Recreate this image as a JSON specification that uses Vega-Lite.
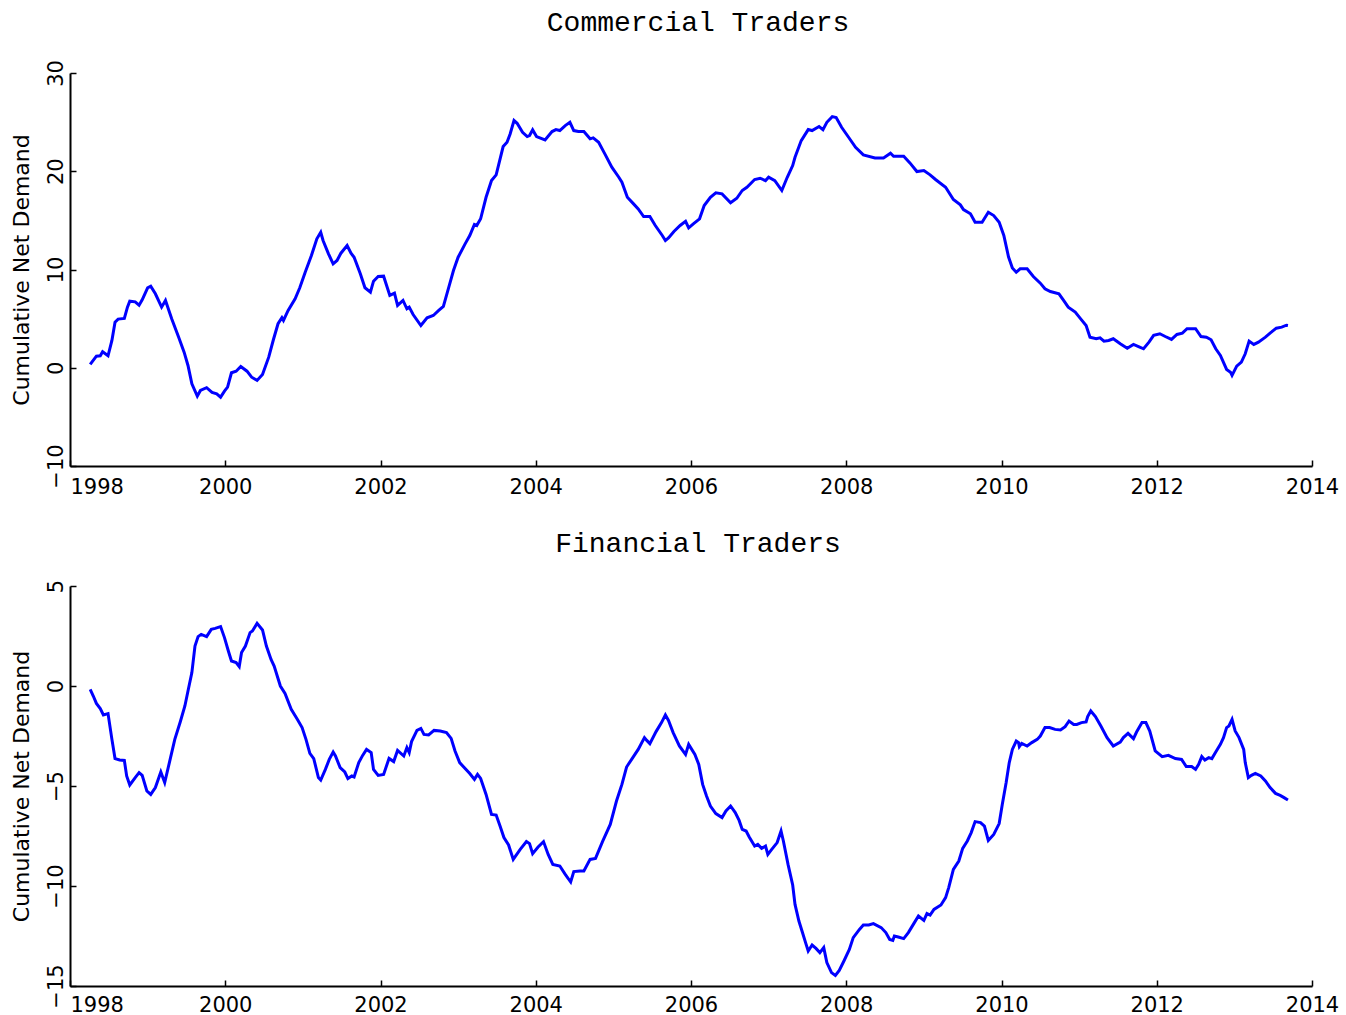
{
  "$schema": "https://vega.github.io/schema/vega-lite/v6.json",
  "background": "white",
  "padding": {"left": 10, "top": 8, "right": 5, "bottom": 5},
  "bounds": "flush",
  "spacing": 120,
  "config": {
    "view": {"stroke": null},
    "axis": {
      "grid": false,
      "domainColor": "black",
      "domainWidth": 2,
      "tickColor": "black",
      "tickWidth": 1.5,
      "tickSize": -6,
      "labelFont": "DejaVu Sans",
      "labelFontSize": 21,
      "labelColor": "black",
      "titleFont": "DejaVu Sans",
      "titleFontSize": 22,
      "titleFontWeight": "normal",
      "titleColor": "black"
    },
    "title": {"font": "Liberation Mono", "fontSize": 28, "fontWeight": "normal", "color": "black", "frame": "group", "dx": 7}
  },
  "datasets": {
    "commercial": [
      {"t":1998.26,"v":0.34},{"t":1998.34,"v":1.18},{"t":1998.39,"v":1.22},{"t":1998.42,"v":1.63},{"t":1998.49,"v":1.22},{"t":1998.54,"v":2.78},{"t":1998.58,"v":4.64},{"t":1998.62,"v":4.95},{"t":1998.70,"v":5.02},{"t":1998.74,"v":6.17},{"t":1998.77,"v":6.78},{"t":1998.84,"v":6.71},{"t":1998.89,"v":6.37},{"t":1998.93,"v":6.91},{"t":1999.00,"v":8.14},{"t":1999.04,"v":8.30},{"t":1999.10,"v":7.53},{"t":1999.18,"v":6.17},{"t":1999.23,"v":6.85},{"t":1999.31,"v":4.98},{"t":1999.40,"v":3.11},{"t":1999.47,"v":1.59},{"t":1999.52,"v":0.23},{"t":1999.57,"v":-1.63},{"t":1999.64,"v":-2.89},{"t":1999.68,"v":-2.31},{"t":1999.76,"v":-2.03},{"t":1999.83,"v":-2.51},{"t":1999.89,"v":-2.65},{"t":1999.94,"v":-2.99},{"t":1999.99,"v":-2.38},
      {"t":2000.03,"v":-1.97},{"t":2000.08,"v":-0.51},{"t":2000.14,"v":-0.35},{"t":2000.20,"v":0.13},{"t":2000.28,"v":-0.35},{"t":2000.34,"v":-0.96},{"t":2000.41,"v":-1.29},{"t":2000.48,"v":-0.68},{"t":2000.56,"v":1.08},{"t":2000.62,"v":2.85},{"t":2000.68,"v":4.48},{"t":2000.73,"v":5.09},{"t":2000.75,"v":4.81},{"t":2000.81,"v":5.83},{"t":2000.90,"v":7.02},{"t":2000.96,"v":8.14},{"t":2001.03,"v":9.73},{"t":2001.11,"v":11.42},{"t":2001.18,"v":13.12},{"t":2001.23,"v":13.79},{"t":2001.26,"v":12.95},{"t":2001.33,"v":11.60},{"t":2001.39,"v":10.58},{"t":2001.44,"v":10.92},{"t":2001.49,"v":11.66},{"t":2001.57,"v":12.44},{"t":2001.62,"v":11.66},{"t":2001.66,"v":11.25},{"t":2001.74,"v":9.56},{"t":2001.80,"v":8.14},{"t":2001.87,"v":7.69},{"t":2001.91,"v":8.81},{"t":2001.97,"v":9.29},
      {"t":2002.04,"v":9.32},{"t":2002.12,"v":7.36},{"t":2002.18,"v":7.59},{"t":2002.22,"v":6.34},{"t":2002.29,"v":6.85},{"t":2002.34,"v":6.00},{"t":2002.37,"v":6.17},{"t":2002.42,"v":5.42},{"t":2002.52,"v":4.30},{"t":2002.60,"v":5.09},{"t":2002.68,"v":5.32},{"t":2002.75,"v":5.83},{"t":2002.81,"v":6.24},{"t":2002.88,"v":8.20},{"t":2002.94,"v":9.90},{"t":2003.00,"v":11.25},{"t":2003.09,"v":12.61},{"t":2003.15,"v":13.46},{"t":2003.21,"v":14.58},{"t":2003.24,"v":14.48},{"t":2003.29,"v":15.16},{"t":2003.36,"v":17.35},{"t":2003.43,"v":19.05},{"t":2003.49,"v":19.63},{"t":2003.58,"v":22.51},{"t":2003.63,"v":22.95},{"t":2003.67,"v":23.80},{"t":2003.72,"v":25.16},{"t":2003.76,"v":24.88},{"t":2003.83,"v":23.97},{"t":2003.89,"v":23.53},{"t":2003.92,"v":23.63},{"t":2003.96,"v":24.21},
      {"t":2004.01,"v":23.53},{"t":2004.12,"v":23.19},{"t":2004.21,"v":24.04},{"t":2004.26,"v":24.24},{"t":2004.31,"v":24.14},{"t":2004.38,"v":24.65},{"t":2004.44,"v":24.98},{"t":2004.49,"v":24.14},{"t":2004.55,"v":24.04},{"t":2004.62,"v":24.04},{"t":2004.70,"v":23.30},{"t":2004.74,"v":23.40},{"t":2004.81,"v":22.95},{"t":2004.89,"v":21.77},{"t":2004.98,"v":20.41},{"t":2005.07,"v":19.39},{"t":2005.11,"v":18.88},{"t":2005.18,"v":17.35},{"t":2005.26,"v":16.68},{"t":2005.32,"v":16.17},{"t":2005.39,"v":15.39},{"t":2005.47,"v":15.39},{"t":2005.54,"v":14.48},{"t":2005.63,"v":13.46},{"t":2005.67,"v":12.95},{"t":2005.71,"v":13.22},{"t":2005.78,"v":13.87},{"t":2005.86,"v":14.48},{"t":2005.93,"v":14.91},{"t":2005.97,"v":14.24},
      {"t":2006.03,"v":14.65},{"t":2006.11,"v":15.16},{"t":2006.17,"v":16.51},{"t":2006.25,"v":17.35},{"t":2006.32,"v":17.80},{"t":2006.40,"v":17.70},{"t":2006.51,"v":16.79},{"t":2006.59,"v":17.25},{"t":2006.66,"v":18.04},{"t":2006.72,"v":18.37},{"t":2006.82,"v":19.16},{"t":2006.89,"v":19.29},{"t":2006.96,"v":19.05},{"t":2007.00,"v":19.39},{"t":2007.08,"v":19.05},{"t":2007.17,"v":18.04},{"t":2007.24,"v":19.39},{"t":2007.31,"v":20.58},{"t":2007.34,"v":21.42},{"t":2007.42,"v":23.12},{"t":2007.51,"v":24.24},{"t":2007.56,"v":24.14},{"t":2007.65,"v":24.55},{"t":2007.70,"v":24.24},{"t":2007.75,"v":24.98},{"t":2007.82,"v":25.56},{"t":2007.87,"v":25.46},{"t":2007.94,"v":24.48},
      {"t":2008.03,"v":23.46},{"t":2008.12,"v":22.44},{"t":2008.22,"v":21.67},{"t":2008.37,"v":21.36},{"t":2008.48,"v":21.36},{"t":2008.57,"v":21.83},{"t":2008.61,"v":21.53},{"t":2008.74,"v":21.53},{"t":2008.82,"v":20.85},{"t":2008.91,"v":19.97},{"t":2009.00,"v":20.07},{"t":2009.08,"v":19.63},{"t":2009.15,"v":19.16},{"t":2009.28,"v":18.37},{"t":2009.38,"v":17.12},{"t":2009.47,"v":16.58},{"t":2009.51,"v":16.10},{"t":2009.60,"v":15.67},{"t":2009.66,"v":14.81},{"t":2009.75,"v":14.81},{"t":2009.83,"v":15.83},{"t":2009.90,"v":15.49},{"t":2009.97,"v":14.81},
      {"t":2010.03,"v":13.46},{"t":2010.09,"v":11.30},{"t":2010.14,"v":10.15},{"t":2010.19,"v":9.73},{"t":2010.24,"v":10.07},{"t":2010.33,"v":10.07},{"t":2010.41,"v":9.29},{"t":2010.50,"v":8.61},{"t":2010.56,"v":8.04},{"t":2010.63,"v":7.76},{"t":2010.74,"v":7.53},{"t":2010.80,"v":6.85},{"t":2010.86,"v":6.17},{"t":2010.95,"v":5.66},{"t":2011.02,"v":4.98},{"t":2011.09,"v":4.30},{"t":2011.14,"v":3.11},{"t":2011.22,"v":2.95},{"t":2011.27,"v":3.05},{"t":2011.32,"v":2.71},{"t":2011.38,"v":2.78},{"t":2011.44,"v":2.95},{"t":2011.53,"v":2.44},{"t":2011.62,"v":1.99},{"t":2011.70,"v":2.37},{"t":2011.78,"v":2.10},{"t":2011.83,"v":1.93},{"t":2011.90,"v":2.60},{"t":2011.96,"v":3.29},
      {"t":2012.04,"v":3.46},{"t":2012.11,"v":3.18},{"t":2012.19,"v":2.88},{"t":2012.26,"v":3.39},{"t":2012.33,"v":3.52},{"t":2012.39,"v":3.97},{"t":2012.50,"v":3.97},{"t":2012.57,"v":3.18},{"t":2012.64,"v":3.11},{"t":2012.70,"v":2.85},{"t":2012.76,"v":1.93},{"t":2012.82,"v":1.25},{"t":2012.90,"v":-0.17},{"t":2012.95,"v":-0.45},{"t":2012.97,"v":-0.78},{"t":2013.03,"v":0.16},{"t":2013.09,"v":0.57},{"t":2013.14,"v":1.42},{"t":2013.19,"v":2.71},{"t":2013.25,"v":2.37},{"t":2013.31,"v":2.60},{"t":2013.40,"v":3.11},{"t":2013.46,"v":3.52},{"t":2013.54,"v":4.03},{"t":2013.61,"v":4.13},{"t":2013.67,"v":4.33},{"t":2013.69,"v":4.30}
    ],
    "financial": [
      {"t":1998.26,"v":-0.17},{"t":1998.30,"v":-0.50},{"t":1998.34,"v":-0.87},{"t":1998.39,"v":-1.13},{"t":1998.43,"v":-1.45},{"t":1998.49,"v":-1.38},{"t":1998.54,"v":-2.67},{"t":1998.58,"v":-3.63},{"t":1998.64,"v":-3.70},{"t":1998.70,"v":-3.72},{"t":1998.73,"v":-4.50},{"t":1998.77,"v":-4.95},{"t":1998.84,"v":-4.58},{"t":1998.89,"v":-4.33},{"t":1998.93,"v":-4.47},{"t":1998.99,"v":-5.25},{"t":1999.04,"v":-5.42},{"t":1999.10,"v":-5.08},{"t":1999.17,"v":-4.30},{"t":1999.22,"v":-4.83},{"t":1999.29,"v":-3.67},{"t":1999.35,"v":-2.67},{"t":1999.42,"v":-1.80},{"t":1999.48,"v":-1.00},{"t":1999.52,"v":-0.25},{"t":1999.57,"v":0.67},{"t":1999.61,"v":2.00},{"t":1999.65,"v":2.47},{"t":1999.69,"v":2.58},{"t":1999.76,"v":2.47},{"t":1999.82,"v":2.83},{"t":1999.87,"v":2.88},{"t":1999.94,"v":2.97},{"t":1999.99,"v":2.42},
      {"t":2000.04,"v":1.75},{"t":2000.08,"v":1.25},{"t":2000.14,"v":1.17},{"t":2000.18,"v":0.97},{"t":2000.21,"v":1.67},{"t":2000.26,"v":2.00},{"t":2000.32,"v":2.67},{"t":2000.35,"v":2.75},{"t":2000.41,"v":3.13},{"t":2000.48,"v":2.80},{"t":2000.53,"v":2.00},{"t":2000.59,"v":1.33},{"t":2000.63,"v":1.00},{"t":2000.71,"v":0.00},{"t":2000.77,"v":-0.37},{"t":2000.85,"v":-1.17},{"t":2000.93,"v":-1.67},{"t":2000.99,"v":-2.08},{"t":2001.04,"v":-2.67},{"t":2001.09,"v":-3.37},{"t":2001.14,"v":-3.63},{"t":2001.20,"v":-4.58},{"t":2001.23,"v":-4.70},{"t":2001.29,"v":-4.17},{"t":2001.34,"v":-3.67},{"t":2001.39,"v":-3.30},{"t":2001.42,"v":-3.50},{"t":2001.48,"v":-4.08},{"t":2001.54,"v":-4.30},{"t":2001.58,"v":-4.63},{"t":2001.63,"v":-4.50},{"t":2001.66,"v":-4.55},{"t":2001.72,"v":-3.83},{"t":2001.77,"v":-3.47},{"t":2001.82,"v":-3.17},{"t":2001.88,"v":-3.33},{"t":2001.91,"v":-4.17},{"t":2001.97,"v":-4.47},
      {"t":2002.04,"v":-4.42},{"t":2002.11,"v":-3.62},{"t":2002.17,"v":-3.78},{"t":2002.22,"v":-3.22},{"t":2002.30,"v":-3.50},{"t":2002.34,"v":-3.08},{"t":2002.37,"v":-3.33},{"t":2002.40,"v":-2.78},{"t":2002.47,"v":-2.22},{"t":2002.52,"v":-2.12},{"t":2002.56,"v":-2.42},{"t":2002.62,"v":-2.45},{"t":2002.69,"v":-2.22},{"t":2002.77,"v":-2.25},{"t":2002.85,"v":-2.33},{"t":2002.91,"v":-2.62},{"t":2002.96,"v":-3.25},{"t":2003.02,"v":-3.83},{"t":2003.09,"v":-4.13},{"t":2003.15,"v":-4.38},{"t":2003.21,"v":-4.67},{"t":2003.25,"v":-4.42},{"t":2003.29,"v":-4.62},{"t":2003.36,"v":-5.42},{"t":2003.43,"v":-6.42},{"t":2003.49,"v":-6.45},{"t":2003.54,"v":-7.00},{"t":2003.59,"v":-7.58},{"t":2003.65,"v":-7.95},{"t":2003.71,"v":-8.67},{"t":2003.80,"v":-8.17},{"t":2003.88,"v":-7.78},{"t":2003.92,"v":-7.88},{"t":2003.96,"v":-8.38},
      {"t":2004.03,"v":-8.05},{"t":2004.10,"v":-7.78},{"t":2004.16,"v":-8.42},{"t":2004.22,"v":-8.92},{"t":2004.31,"v":-9.00},{"t":2004.38,"v":-9.42},{"t":2004.45,"v":-9.80},{"t":2004.49,"v":-9.28},{"t":2004.57,"v":-9.25},{"t":2004.62,"v":-9.25},{"t":2004.70,"v":-8.67},{"t":2004.77,"v":-8.62},{"t":2004.86,"v":-7.78},{"t":2004.96,"v":-6.92},{"t":2005.04,"v":-5.75},{"t":2005.11,"v":-4.92},{"t":2005.17,"v":-4.05},{"t":2005.25,"v":-3.58},{"t":2005.32,"v":-3.17},{"t":2005.40,"v":-2.58},{"t":2005.43,"v":-2.72},{"t":2005.47,"v":-2.88},{"t":2005.55,"v":-2.28},{"t":2005.62,"v":-1.83},{"t":2005.67,"v":-1.45},{"t":2005.71,"v":-1.72},{"t":2005.77,"v":-2.33},{"t":2005.85,"v":-3.00},{"t":2005.93,"v":-3.42},{"t":2005.97,"v":-2.92},
      {"t":2006.05,"v":-3.42},{"t":2006.10,"v":-3.92},{"t":2006.15,"v":-4.92},{"t":2006.20,"v":-5.50},{"t":2006.25,"v":-6.00},{"t":2006.32,"v":-6.38},{"t":2006.40,"v":-6.58},{"t":2006.45,"v":-6.25},{"t":2006.51,"v":-6.00},{"t":2006.57,"v":-6.33},{"t":2006.62,"v":-6.72},{"t":2006.66,"v":-7.17},{"t":2006.71,"v":-7.25},{"t":2006.75,"v":-7.55},{"t":2006.82,"v":-8.00},{"t":2006.86,"v":-7.92},{"t":2006.91,"v":-8.12},{"t":2006.96,"v":-8.00},{"t":2006.99,"v":-8.42},{"t":2007.04,"v":-8.17},{"t":2007.11,"v":-7.83},{"t":2007.16,"v":-7.25},{"t":2007.19,"v":-7.75},{"t":2007.25,"v":-8.92},{"t":2007.31,"v":-9.95},{"t":2007.34,"v":-10.92},{"t":2007.39,"v":-11.75},{"t":2007.43,"v":-12.25},{"t":2007.48,"v":-12.88},{"t":2007.51,"v":-13.25},{"t":2007.56,"v":-12.95},{"t":2007.61,"v":-13.12},{"t":2007.66,"v":-13.33},{"t":2007.71,"v":-13.08},{"t":2007.75,"v":-13.83},{"t":2007.81,"v":-14.33},{"t":2007.86,"v":-14.47},{"t":2007.91,"v":-14.22},{"t":2007.97,"v":-13.75},
      {"t":2008.04,"v":-13.17},{"t":2008.09,"v":-12.58},{"t":2008.17,"v":-12.17},{"t":2008.22,"v":-11.95},{"t":2008.29,"v":-11.95},{"t":2008.35,"v":-11.88},{"t":2008.45,"v":-12.08},{"t":2008.51,"v":-12.33},{"t":2008.56,"v":-12.67},{"t":2008.60,"v":-12.72},{"t":2008.62,"v":-12.50},{"t":2008.67,"v":-12.55},{"t":2008.74,"v":-12.63},{"t":2008.80,"v":-12.33},{"t":2008.87,"v":-11.88},{"t":2008.93,"v":-11.50},{"t":2009.00,"v":-11.72},{"t":2009.04,"v":-11.38},{"t":2009.08,"v":-11.45},{"t":2009.13,"v":-11.17},{"t":2009.22,"v":-10.95},{"t":2009.28,"v":-10.58},{"t":2009.32,"v":-10.08},{"t":2009.38,"v":-9.17},{"t":2009.45,"v":-8.75},{"t":2009.50,"v":-8.12},{"t":2009.56,"v":-7.75},{"t":2009.61,"v":-7.33},{"t":2009.66,"v":-6.78},{"t":2009.73,"v":-6.83},{"t":2009.78,"v":-7.00},{"t":2009.83,"v":-7.72},{"t":2009.90,"v":-7.42},{"t":2009.97,"v":-6.88},
      {"t":2010.01,"v":-5.92},{"t":2010.06,"v":-4.83},{"t":2010.10,"v":-3.83},{"t":2010.14,"v":-3.17},{"t":2010.19,"v":-2.75},{"t":2010.22,"v":-2.83},{"t":2010.23,"v":-3.03},{"t":2010.26,"v":-2.87},{"t":2010.33,"v":-3.00},{"t":2010.39,"v":-2.83},{"t":2010.46,"v":-2.67},{"t":2010.50,"v":-2.50},{"t":2010.56,"v":-2.08},{"t":2010.62,"v":-2.08},{"t":2010.69,"v":-2.17},{"t":2010.76,"v":-2.20},{"t":2010.82,"v":-2.03},{"t":2010.87,"v":-1.75},{"t":2010.93,"v":-1.92},{"t":2010.97,"v":-1.92},{"t":2011.03,"v":-1.83},{"t":2011.09,"v":-1.80},{"t":2011.11,"v":-1.53},{"t":2011.15,"v":-1.25},{"t":2011.21,"v":-1.53},{"t":2011.28,"v":-2.00},{"t":2011.36,"v":-2.58},{"t":2011.44,"v":-3.00},{"t":2011.53,"v":-2.80},{"t":2011.57,"v":-2.58},{"t":2011.63,"v":-2.37},{"t":2011.70,"v":-2.63},{"t":2011.74,"v":-2.30},{"t":2011.81,"v":-1.83},{"t":2011.86,"v":-1.83},{"t":2011.91,"v":-2.25},{"t":2011.98,"v":-3.25},
      {"t":2012.07,"v":-3.53},{"t":2012.15,"v":-3.47},{"t":2012.24,"v":-3.63},{"t":2012.32,"v":-3.67},{"t":2012.38,"v":-4.03},{"t":2012.45,"v":-4.03},{"t":2012.50,"v":-4.17},{"t":2012.54,"v":-3.92},{"t":2012.58,"v":-3.53},{"t":2012.62,"v":-3.70},{"t":2012.67,"v":-3.58},{"t":2012.71,"v":-3.63},{"t":2012.76,"v":-3.30},{"t":2012.82,"v":-2.92},{"t":2012.86,"v":-2.58},{"t":2012.90,"v":-2.08},{"t":2012.93,"v":-2.00},{"t":2012.97,"v":-1.67},{"t":2013.01,"v":-2.25},{"t":2013.06,"v":-2.58},{"t":2013.12,"v":-3.17},{"t":2013.14,"v":-3.83},{"t":2013.18,"v":-4.58},{"t":2013.22,"v":-4.47},{"t":2013.27,"v":-4.37},{"t":2013.34,"v":-4.50},{"t":2013.40,"v":-4.75},{"t":2013.46,"v":-5.08},{"t":2013.53,"v":-5.37},{"t":2013.59,"v":-5.47},{"t":2013.64,"v":-5.58},{"t":2013.69,"v":-5.70}
    ]
  },
  "vconcat": [
    {
      "title": {"text": "Commercial Traders", "offset": 23},
      "width": 1242,
      "height": 393,
      "data": {"name": "commercial"},
      "mark": {"type": "line", "color": "#0000ff", "strokeWidth": 3},
      "encoding": {
        "x": {"field": "t", "type": "quantitative", "scale": {"domain": [1998, 2014], "nice": false, "zero": false},
              "axis": {"title": null, "values": [1998, 2000, 2002, 2004, 2006, 2008, 2010, 2012, 2014], "format": "d", "labelPadding": 16,
                       "labelAlign": {"condition": {"test": "datum.value <= 1998", "value": "left"}, "value": "center"}}},
        "y": {"field": "v", "type": "quantitative", "scale": {"domain": [-10, 30], "nice": false, "zero": false},
              "axis": {"title": "Cumulative Net Demand", "values": [-10, 0, 10, 20, 30], "labelAngle": -90, "labelPadding": 10, "titlePadding": 12}}
      }
    },
    {
      "title": {"text": "Financial Traders", "offset": 21},
      "width": 1242,
      "height": 400,
      "data": {"name": "financial"},
      "mark": {"type": "line", "color": "#0000ff", "strokeWidth": 3},
      "encoding": {
        "x": {"field": "t", "type": "quantitative", "scale": {"domain": [1998, 2014], "nice": false, "zero": false},
              "axis": {"title": null, "values": [1998, 2000, 2002, 2004, 2006, 2008, 2010, 2012, 2014], "format": "d", "labelPadding": 14,
                       "labelAlign": {"condition": {"test": "datum.value <= 1998", "value": "left"}, "value": "center"}}},
        "y": {"field": "v", "type": "quantitative", "scale": {"domain": [-15, 5], "nice": false, "zero": false},
              "axis": {"title": "Cumulative Net Demand", "values": [-15, -10, -5, 0, 5], "labelAngle": -90, "labelPadding": 10, "titlePadding": 12}}
      }
    }
  ]
}
